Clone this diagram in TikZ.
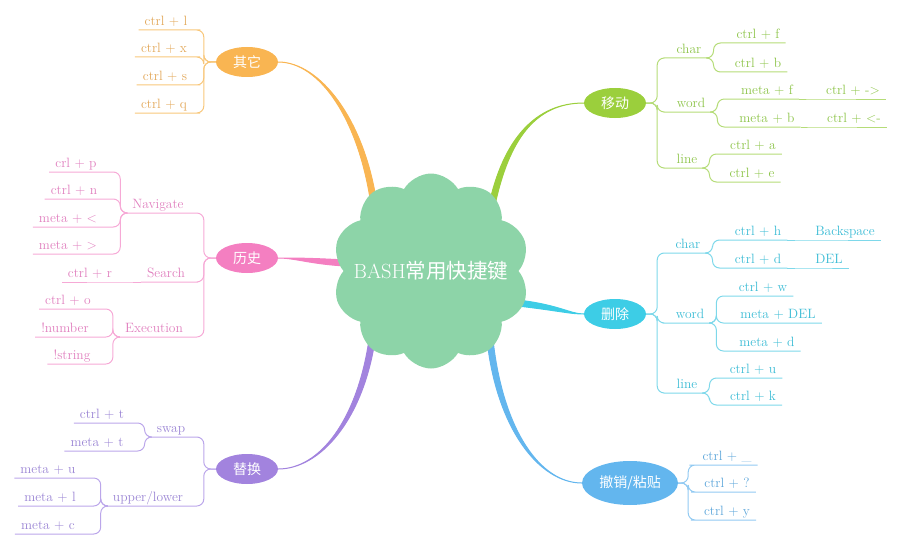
\documentclass[tikz,border=0pt]{standalone}
\usepackage{fontspec}
\newfontfamily\cjk{Noto Sans CJK SC}
\usepackage{tikz}
\usetikzlibrary{shapes.geometric,shapes.symbols,calc,backgrounds}
\definecolor{cloudC}{HTML}{8DD4A8}
\definecolor{othC}{HTML}{F9B552}\definecolor{othT}{HTML}{E2A758}\definecolor{othL}{HTML}{F8C77B}
\definecolor{hisC}{HTML}{F47FC1}\definecolor{hisT}{HTML}{E07FBE}\definecolor{hisL}{HTML}{F6A9D6}
\definecolor{repC}{HTML}{A283DE}\definecolor{repT}{HTML}{9A84D4}\definecolor{repL}{HTML}{BBA6EA}
\definecolor{movC}{HTML}{9BCF3C}\definecolor{movT}{HTML}{8DC449}\definecolor{movL}{HTML}{B5DC78}
\definecolor{delC}{HTML}{3DCDE6}\definecolor{delT}{HTML}{3CBCD5}\definecolor{delL}{HTML}{7ED8EA}
\definecolor{undC}{HTML}{63B6EE}\definecolor{undT}{HTML}{5DA6DA}\definecolor{undL}{HTML}{92CAF2}
\newcommand\limb[6]{% colour, root, half width, first control, second control, tip
  \filldraw[#1, line width=1pt, line join=round] ($(#2)+#3$) .. controls ($#4+#3$) and #5 .. (#6)
    .. controls #5 and ($#4-#3$) .. ($(#2)-#3$) -- cycle;
}
\tikzset{
    % main topics
    topic/.style={
           ellipse,
           minimum width=62pt,
           minimum height=30pt,
           inner sep=0pt,
           text=white,
           font=\cjk\fontsize{14}{16}\selectfont,
           },
    % leaves stand on their underline
    leaf/.style={
           anchor=south,
           inner xsep=6pt,
           inner ysep=1.5pt,
           text height=9pt,
           text depth=3pt,
           font=\fontsize{13.5}{15}\selectfont,
           },
    twig/.style={
           rounded corners=7pt,
           line width=1pt,
}
}
\begin{document}
\begin{tikzpicture}[x=1pt,y=-1pt]
  \useasboundingbox (0,0) rectangle (900,543);
  \node (bash) at (431,271) [shape=cloud, cloud puffs=10, cloud puff arc=120, aspect=1,
    shape border rotate=18, minimum width=197pt, minimum height=195pt, inner sep=0pt,
    fill=cloudC, text=white, font=\fontsize{20.5}{24}\selectfont]
    {\makebox[0pt]{BASH{\cjk 常用快捷键}}};
  \node (oth) at (247,62) [topic, fill=othC] {其它};
  \node (his) at (247,258) [topic, fill=hisC] {历史};
  \node (rep) at (247,469) [topic, fill=repC] {替换};
  \node (mov) at (615,103) [topic, fill=movC] {移动};
  \node (del) at (615,314) [topic, fill=delC] {删除};
  \node (und) at (630,483) [topic, fill=undC, minimum width=96pt, minimum height=44pt] {撤销/粘贴};
  \coordinate (bOth) at (374,205);
  \coordinate (bHis) at (345,263);
  \coordinate (bRep) at (372,340);
  \coordinate (bMov) at (492,205);
  \coordinate (bDel) at (518,303);
  \coordinate (bUnd) at (490,340);
  \begin{scope}[on background layer]
    \limb{othC}{bOth}{(3,0)}{(362,120)}{(320,62)}{oth.east}
    \limb{hisC}{bHis}{(0,3)}{(310,261)}{(295,258)}{his.east}
    \limb{repC}{bRep}{(3,0)}{(360,420)}{(320,469)}{rep.east}
    \limb{movC}{bMov}{(3,0)}{(506,140)}{(535,103)}{mov.west}
    \limb{delC}{bDel}{(0,3)}{(560,308)}{(570,314)}{del.west}
    \limb{undC}{bUnd}{(3,0)}{(500,430)}{(540,483)}{und.west}
  \end{scope}
  % other
  \begin{scope}[othL, text=othT]
    \node (o1) at (166,30) [leaf] {ctrl + l};
    \node (o2) at (164,57) [leaf] {ctrl + x};
    \node (o3) at (165,85) [leaf] {ctrl + s};
    \node (o4) at (164,113) [leaf] {ctrl + q};
    \foreach \n in {o1,o2,o3,o4}
      \draw [twig] (oth.west) -- ++(-12,0) |- (\n.south east) -- (\n.south west);
  \end{scope}
  % history
  \begin{scope}[hisL, text=hisT]
    \node (nav) at (158,213) [leaf] {Navigate};
    \node (sea) at (166,282) [leaf] {Search};
    \node (exe) at (154,337) [leaf] {Execution};
    \foreach \n in {nav,sea,exe}
      \draw [twig] (his.west) -- ++(-12,0) |- (\n.south east) -- (\n.south west);
    \node (n1) at (76,172) [leaf] {crl + p};
    \node (n2) at (74,199) [leaf] {ctrl + n};
    \node (n3) at (68,227) [leaf] {meta + <};
    \node (n4) at (68,254) [leaf] {meta + >};
    \foreach \n in {n1,n2,n3,n4}
      \draw [twig] (nav.south west) -- ++(-6,0) |- (\n.south east) -- (\n.south west);
    \node (sr) at (90,282) [leaf] {ctrl + r};
    \draw [twig] (sea.south west) -- (sr.south east) -- (sr.south west);
    \node (e1) at (68,309) [leaf] {ctrl + o};
    \node (e2) at (65,337) [leaf] {!number};
    \node (e3) at (72,364) [leaf] {!string};
    \foreach \n in {e1,e2,e3}
      \draw [twig] (exe.south west) -- ++(-6,0) |- (\n.south east) -- (\n.south west);
  \end{scope}
  % replace
  \begin{scope}[repL, text=repT]
    \node (swp) at (171,437) [leaf] {swap};
    \node (upl) at (148,506) [leaf] {upper/lower};
    \foreach \n in {swp,upl}
      \draw [twig] (rep.west) -- ++(-12,0) |- (\n.south east) -- (\n.south west);
    \node (s1) at (102,423) [leaf] {ctrl + t};
    \node (s2) at (97,451) [leaf] {meta + t};
    \foreach \n in {s1,s2}
      \draw [twig] (swp.south west) -- ++(-6,0) |- (\n.south east) -- (\n.south west);
    \node (u1) at (48,478) [leaf] {meta + u};
    \node (u2) at (50,506) [leaf] {meta + l};
    \node (u3) at (48,534) [leaf] {meta + c};
    \foreach \n in {u1,u2,u3}
      \draw [twig] (upl.south west) -- ++(-6,0) |- (\n.south east) -- (\n.south west);
  \end{scope}
  % move
  \begin{scope}[movL, text=movT]
    \node (mch) at (689,58) [leaf] {char};
    \node (mwd) at (691,112) [leaf] {word};
    \node (mln) at (687,168) [leaf] {line};
    \foreach \n in {mch,mwd,mln}
      \draw [twig] (mov.east) -- ++(11,0) |- (\n.south west) -- (\n.south east);
    \node (m1) at (758,43) [leaf] {ctrl + f};
    \node (m2) at (758,72) [leaf] {ctrl + b};
    \foreach \n in {m1,m2}
      \draw [twig] (mch.south east) -- ++(6,0) |- (\n.south west) -- (\n.south east);
    \node (m3) at (767,99) [leaf] {meta + f};
    \node (m4) at (767,127) [leaf] {meta + b};
    \foreach \n in {m3,m4}
      \draw [twig] (mwd.south east) -- ++(6,0) |- (\n.south west) -- (\n.south east);
    \node (m3a) at (853,99) [leaf] {ctrl + ->};
    \node (m4a) at (854,127) [leaf] {ctrl + <-};
    \draw [twig] (m3.south east) -- (m3a.south west) -- (m3a.south east);
    \draw [twig] (m4.south east) -- (m4a.south west) -- (m4a.south east);
    \node (m5) at (753,154) [leaf] {ctrl + a};
    \node (m6) at (752,182) [leaf] {ctrl + e};
    \foreach \n in {m5,m6}
      \draw [twig] (mln.south east) -- ++(6,0) |- (\n.south west) -- (\n.south east);
  \end{scope}
  % delete
  \begin{scope}[delL, text=delT]
    \node (dch) at (688,253) [leaf] {char};
    \node (dwd) at (690,323) [leaf] {word};
    \node (dln) at (687,393) [leaf] {line};
    \foreach \n in {dch,dwd,dln}
      \draw [twig] (del.east) -- ++(11,0) |- (\n.south west) -- (\n.south east);
    \node (d1) at (758,240) [leaf] {ctrl + h};
    \node (d2) at (758,268) [leaf] {ctrl + d};
    \foreach \n in {d1,d2}
      \draw [twig] (dch.south east) -- ++(6,0) |- (\n.south west) -- (\n.south east);
    \node (d1a) at (845,240) [leaf] {Backspace};
    \node (d2a) at (829,268) [leaf] {DEL};
    \draw [twig] (d1.south east) -- (d1a.south west) -- (d1a.south east);
    \draw [twig] (d2.south east) -- (d2a.south west) -- (d2a.south east);
    \node (d3) at (763,296) [leaf] {ctrl + w};
    \node (d4) at (778,323) [leaf] {meta + DEL};
    \node (d5) at (767,351) [leaf] {meta + d};
    \foreach \n in {d3,d4,d5}
      \draw [twig] (dwd.south east) -- ++(6,0) |- (\n.south west) -- (\n.south east);
    \node (d6) at (753,378) [leaf] {ctrl + u};
    \node (d7) at (753,405) [leaf] {ctrl + k};
    \foreach \n in {d6,d7}
      \draw [twig] (dln.south east) -- ++(6,0) |- (\n.south west) -- (\n.south east);
  \end{scope}
  % undo / paste
  \begin{scope}[undL, text=undT]
    \node (b1) at (727,465) [leaf] {ctrl + \_};
    \node (b2) at (727,492) [leaf] {ctrl + ?};
    \node (b3) at (727,520) [leaf] {ctrl + y};
    \foreach \n in {b1,b2,b3}
      \draw [twig] (und.east) -- ++(10,0) |- (\n.south west) -- (\n.south east);
  \end{scope}
\end{tikzpicture}
\end{document}
